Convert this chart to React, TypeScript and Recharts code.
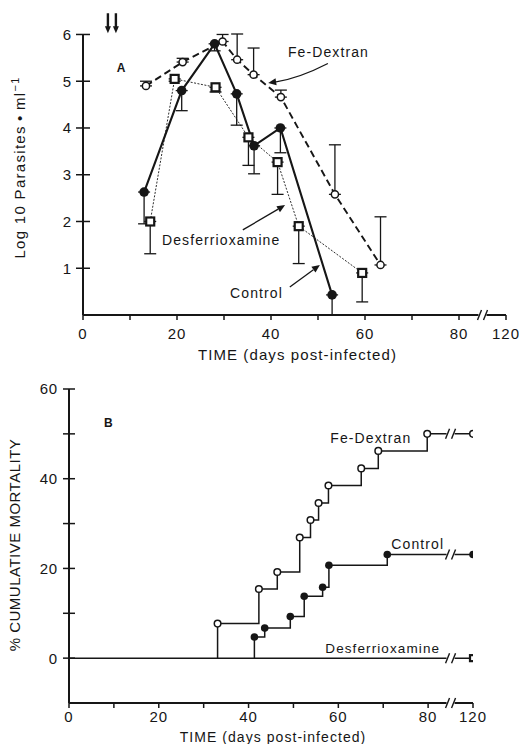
import React from 'react';
import { LineChart, Line, XAxis, YAxis, ErrorBar, ReferenceDot, ReferenceLine } from 'recharts';

// x axis is broken between 80 and 120 days; day 120 is drawn at position 90
const BREAK_AT = 85;
const axisDay = (d: number) => (d === 120 ? 90 : d);

// ---- panel A: log10 parasites per ml ----
const ctrlDaysA = [13, 21, 28, 32.7, 36.4, 42, 53];
const ctrlLogA = [2.63, 4.8, 5.8, 4.73, 3.62, 4.0, 0.43];
const ctrlErrA = [0.68, 0.43, 0.15, 0.67, 0.6, 0.53, 0.43]; // drawn below

const feDaysA = [13.4, 21.2, 29.7, 32.8, 36.3, 42.1, 53.6, 63.3];
const feLogA = [4.9, 5.41, 5.85, 5.46, 5.14, 4.66, 2.58, 1.07];
const feErrA = [0.1, 0.08, 0.15, 0.55, 0.57, 0.15, 1.06, 1.03]; // drawn above

const desDaysA = [14.3, 19.5, 28.2, 35.2, 41.4, 45.9, 59.4];
const desLogA = [2.0, 5.05, 4.87, 3.8, 3.27, 1.9, 0.9];
const desErrA = [0.69, 0.05, 0.1, 0.6, 0.69, 0.8, 0.62]; // drawn below

const treatDays = [5.3, 7.0];

// ---- panel B: % cumulative mortality ----
const feDaysB = [33.1, 42.3, 46.4, 51.4, 53.8, 55.6, 57.8, 65.1, 68.9, 79.8, 120];
const feMortB = [7.7, 15.4, 19.2, 26.9, 30.8, 34.6, 38.5, 42.3, 46.2, 50.0, 50.0];

const ctrlDaysB = [41.3, 43.6, 49.3, 52.4, 56.5, 57.9, 70.9, 120];
const ctrlMortB = [4.7, 6.7, 9.3, 13.8, 15.8, 20.7, 23.1, 23.1];

const desDaysB = [0, 120];
const desMortB = [0, 0];

const xTicks = [0, 10, 20, 30, 40, 50, 60, 70, 80, 90];
const xTickLabels: Record<number, string> = { 0: '0', 20: '20', 40: '40', 60: '60', 80: '80', 90: '120' };
const yTicksA = [1, 2, 3, 4, 5, 6];
const yTicksB = [0, 10, 20, 30, 40, 50, 60];
const yTickLabelsB: Record<number, string> = { 0: '0', 20: '20', 40: '40', 60: '60' };

const FONT = '"Liberation Sans", Arial, sans-serif';
const INK = '#161616';

const seriesA = (days: number[], vals: number[], errs: number[], up: boolean) =>
  days.map((d, i) => ({ day: d, v: vals[i], err: up ? [0, errs[i]] : [errs[i], 0] }));

const stepSeries = (days: number[], vals: number[], fromZero: boolean) => {
  const rows = days.map((d, i) => ({ day: axisDay(d), v: vals[i], mark: true }));
  if (fromZero) rows.unshift({ day: axisDay(days[0]), v: 0, mark: false });
  return rows;
};

const filledDot = (r: number) => (p: any) =>
  p.payload && p.payload.mark === false ? <g key={p.index} /> : <circle key={p.index} cx={p.cx} cy={p.cy} r={r} fill={INK} />;
const openDot = (r: number) => (p: any) =>
  p.payload && p.payload.mark === false ? <g key={p.index} /> : (
    <circle key={p.index} cx={p.cx} cy={p.cy} r={r} fill="#fff" stroke={INK} strokeWidth={1.5} />
  );
const squareDot = (s: number) => (p: any) =>
  p.payload && p.payload.mark === false ? <g key={p.index} /> : (
    <rect key={p.index} x={p.cx - s / 2} y={p.cy - s / 2} width={s} height={s} fill="#fff" stroke={INK} strokeWidth={2.2} />
  );

const XTick = (dy: number) => (p: any) => {
  const v = p.payload.value;
  return (
    <g>
      <line x1={p.x} y1={p.y} x2={p.x} y2={p.y + 5} stroke={INK} strokeWidth={1.5} />
      <text x={p.x} y={p.y + dy} textAnchor="middle" fontSize={15} letterSpacing={1} fill={INK} fontFamily={FONT}>
        {xTickLabels[v] ?? ''}
      </text>
    </g>
  );
};

const YTick = (labels: Record<number, string> | null, half: number, gap: number) => (p: any) => {
  const v = p.payload.value;
  const txt = labels ? labels[v] ?? '' : String(v);
  return (
    <g>
      <line x1={p.x - half} y1={p.y} x2={p.x + half} y2={p.y} stroke={INK} strokeWidth={1.5} />
      <text x={p.x - gap} y={p.y} dy="0.36em" textAnchor="end" fontSize={15} letterSpacing={0.8} fill={INK} fontFamily={FONT}>
        {txt}
      </text>
    </g>
  );
};

const textShape = (label: string, opts: { size?: number; bold?: boolean; anchor?: string; spacing?: number } = {}) => (p: any) => (
  <text
    x={p.cx}
    y={p.cy}
    dy="0.36em"
    textAnchor={opts.anchor ?? 'start'}
    fontSize={opts.size ?? 14}
    fontWeight={opts.bold ? 700 : 400}
    letterSpacing={opts.spacing ?? 1.1}
    fill={INK}
    fontFamily={FONT}
  >
    {label}
  </text>
);

const breakShape = (p: any) => (
  <g>
    <rect x={p.cx - 4} y={p.cy - 4} width={8} height={8} fill="#fff" />
    <line x1={p.cx - 5} y1={p.cy + 5} x2={p.cx - 1} y2={p.cy - 5} stroke={INK} strokeWidth={1.4} />
    <line x1={p.cx + 1} y1={p.cy + 5} x2={p.cx + 5} y2={p.cy - 5} stroke={INK} strokeWidth={1.4} />
  </g>
);

const downArrow = (p: any) => (
  <g>
    <line x1={p.cx} y1={p.cy - 10} x2={p.cx} y2={p.cy + 4} stroke={INK} strokeWidth={2.4} />
    <polygon points={`${p.cx - 3},${p.cy + 3} ${p.cx + 3},${p.cy + 3} ${p.cx},${p.cy + 10}`} fill={INK} />
  </g>
);

const arrowShape = (bend: number) => (p: any) => {
  const { x1, y1, x2, y2 } = p;
  if ([x1, y1, x2, y2].some((n) => typeof n !== 'number' || isNaN(n))) return <g />;
  const mx = (x1 + x2) / 2;
  const my = (y1 + y2) / 2;
  const dx = x2 - x1;
  const dy = y2 - y1;
  const len = Math.hypot(dx, dy) || 1;
  const cx = mx - (dy / len) * bend;
  const cy = my + (dx / len) * bend;
  const ang = Math.atan2(y2 - cy, x2 - cx);
  const h = 8;
  const w = 3.5;
  const bx = x2 - Math.cos(ang) * h;
  const by = y2 - Math.sin(ang) * h;
  const px = -Math.sin(ang) * w;
  const py = Math.cos(ang) * w;
  return (
    <g>
      <path d={`M${x1},${y1} Q${cx},${cy} ${bx},${by}`} fill="none" stroke={INK} strokeWidth={1.3} />
      <polygon points={`${x2},${y2} ${bx + px},${by + py} ${bx - px},${by - py}`} fill={INK} />
    </g>
  );
};

// axis titles: dx/dy measured from the axis line (y axis) or axis centre (x axis)
const axisLabel = (label: React.ReactNode, dx: number, dy: number, rotate: boolean, size: number, spacing: number) => (p: any) => {
  const vb = p.viewBox || {};
  const x = rotate ? vb.x + vb.width + dx : vb.x + vb.width / 2 + dx;
  const y = rotate ? vb.y + vb.height / 2 + dy : vb.y + dy;
  return (
    <text
      x={x}
      y={y}
      textAnchor="middle"
      transform={rotate ? `rotate(-90, ${x}, ${y})` : undefined}
      fontSize={size}
      letterSpacing={spacing}
      fill={INK}
      fontFamily={FONT}
    >
      {label}
    </text>
  );
};

// error bars go on an invisible line underneath, so the markers cover the bar's inner cap
const errLine = (data: any[]) => (
  <Line data={data} dataKey="v" stroke="none" dot={false} activeDot={false} legendType="none" isAnimationActive={false}>
    <ErrorBar dataKey="err" direction="y" width={6} stroke={INK} strokeWidth={1.3} />
  </Line>
);

function PanelA() {
  const ctrl = seriesA(ctrlDaysA, ctrlLogA, ctrlErrA, false);
  const fe = seriesA(feDaysA, feLogA, feErrA, true);
  const des = seriesA(desDaysA, desLogA, desErrA, false);
  return (
    <LineChart width={519} height={370} margin={{ top: 34, right: 13, bottom: 25, left: 43 }}>
      <XAxis
        type="number"
        dataKey="day"
        domain={[0, 90]}
        ticks={xTicks}
        allowDataOverflow
        height={30}
        tickSize={0}
        tickMargin={0}
        tickLine={false}
        tick={XTick(24)}
        stroke={INK}
        strokeWidth={2}
        label={{
          content: axisLabel('TIME (days post-infected)', 3, 45, false, 15, 1.1),
        }}
      />
      <YAxis
        type="number"
        domain={[0, 6]}
        ticks={yTicksA}
        width={40}
        tickSize={0}
        tickMargin={0}
        tickLine={false}
        tick={YTick(null, 7, 11)}
        stroke={INK}
        strokeWidth={2}
        label={{
          content: axisLabel(
            <>
              Log 10 Parasites{'\u2009\u2022\u2009'}ml
              <tspan fontSize={11} dy={-6}>
                {'\u22121'}
              </tspan>
            </>,
            -58,
            -7,
            true,
            15,
            1.3,
          ),
        }}
      />
      {errLine(des)}
      {errLine(fe)}
      {errLine(ctrl)}
      <Line
        data={des}
        dataKey="v"
        stroke={INK}
        strokeWidth={0.9}
        strokeDasharray="2 1.5"
        dot={squareDot(8)}
        isAnimationActive={false}
      />
      <Line
        data={fe}
        dataKey="v"
        stroke={INK}
        strokeWidth={1.9}
        strokeDasharray="7 4"
        dot={openDot(3.6)}
        isAnimationActive={false}
      />
      <Line data={ctrl} dataKey="v" stroke={INK} strokeWidth={2.1} dot={filledDot(4.8)} isAnimationActive={false} />

      <ReferenceDot x={BREAK_AT} y={0} r={0} shape={breakShape} ifOverflow="visible" />
      {treatDays.map((d) => (
        <ReferenceDot key={d} x={d} y={6.24} r={0} shape={downArrow} ifOverflow="visible" />
      ))}
      <ReferenceDot x={7.2} y={5.28} r={0} shape={textShape('A', { size: 12, bold: true, spacing: 0 })} />
      <ReferenceDot x={43.6} y={5.62} r={0} shape={textShape('Fe-Dextran')} />
      <ReferenceDot x={16.8} y={1.6} r={0} shape={textShape('Desferrioxamine')} />
      <ReferenceDot x={31.3} y={0.47} r={0} shape={textShape('Control')} />
      <ReferenceLine segment={[{ x: 52.1, y: 5.38 }, { x: 39.4, y: 4.96 }]} shape={arrowShape(-5)} />
      <ReferenceLine segment={[{ x: 34.0, y: 1.82 }, { x: 43.0, y: 2.35 }]} shape={arrowShape(0)} />
      <ReferenceLine segment={[{ x: 44.0, y: 0.6 }, { x: 50.4, y: 1.07 }]} shape={arrowShape(0)} />
    </LineChart>
  );
}

function PanelB() {
  const fe = stepSeries(feDaysB, feMortB, true);
  const ctrl = stepSeries(ctrlDaysB, ctrlMortB, true);
  const des = desDaysB.map((d, i) => ({ day: axisDay(d), v: desMortB[i], mark: d === 120 }));
  return (
    <LineChart width={519} height={374} margin={{ top: 19, right: 46, bottom: 11, left: 29 }}>
      <XAxis
        type="number"
        dataKey="day"
        domain={[0, 90]}
        ticks={xTicks}
        allowDataOverflow
        height={30}
        tickSize={0}
        tickMargin={0}
        tickLine={false}
        tick={XTick(19)}
        stroke={INK}
        strokeWidth={2}
        label={{
          content: axisLabel('TIME (days post-infected)', 2, 39, false, 14, 1.05),
        }}
      />
      <YAxis
        type="number"
        domain={[-10, 60]}
        ticks={yTicksB}
        width={40}
        tickSize={0}
        tickMargin={0}
        tickLine={false}
        tick={YTick(yTickLabelsB, 6, 11)}
        stroke={INK}
        strokeWidth={2}
        label={{
          content: axisLabel('% CUMULATIVE MORTALITY', -49, -1, true, 15, 0.5),
        }}
      />
      <Line data={des} dataKey="v" type="linear" stroke={INK} strokeWidth={1.5} dot={squareDot(6)} isAnimationActive={false} />
      <Line data={fe} dataKey="v" type="stepAfter" stroke={INK} strokeWidth={1.5} dot={openDot(3.3)} isAnimationActive={false} />
      <Line data={ctrl} dataKey="v" type="stepAfter" stroke={INK} strokeWidth={1.5} dot={filledDot(3.8)} isAnimationActive={false} />

      <ReferenceDot x={BREAK_AT} y={50} r={0} shape={breakShape} />
      <ReferenceDot x={BREAK_AT} y={23.1} r={0} shape={breakShape} />
      <ReferenceDot x={BREAK_AT} y={0} r={0} shape={breakShape} />
      <ReferenceDot x={BREAK_AT} y={-10} r={0} shape={breakShape} ifOverflow="visible" />

      <ReferenceDot x={7.8} y={52.6} r={0} shape={textShape('B', { size: 12, bold: true, spacing: 0 })} />
      <ReferenceDot x={58.2} y={49.0} r={0} shape={textShape('Fe-Dextran')} />
      <ReferenceDot x={71.8} y={25.4} r={0} shape={textShape('Control')} />
      <ReferenceDot x={57.1} y={2.2} r={0} shape={textShape('Desferrioxamine', { size: 13.5, spacing: 1.1 })} />
    </LineChart>
  );
}

export default function App() {
  return (
    <div style={{ position: 'absolute', left: 0, top: 0, width: 519, height: 744, background: '#fff', fontFamily: FONT }}>
      <div style={{ position: 'absolute', left: 0, top: 0 }}>
        <PanelA />
      </div>
      <div style={{ position: 'absolute', left: 0, top: 370 }}>
        <PanelB />
      </div>
    </div>
  );
}
